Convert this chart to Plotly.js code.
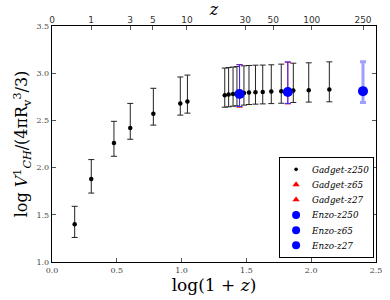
<!DOCTYPE html>
<html>
<head>
<meta charset="utf-8">
<script src="https://cdn.plot.ly/plotly-3.0.1.min.js"></script>
<style>html,body{margin:0;padding:0;background:#fff}#chart{width:390px;height:300px}</style>
</head>
<body>
<div id="chart"></div>
<script>
// Gadget-z250 (log(1+z), value, upper end, lower end of error bar)
const gadgetX   = [0.175, 0.303, 0.478, 0.604, 0.782, 0.990, 1.045, 1.333, 1.363, 1.397, 1.427, 1.481, 1.520, 1.570, 1.626, 1.692, 1.769, 1.862, 1.981, 2.140];
const gadgetY   = [1.40, 1.88, 2.26, 2.42, 2.57, 2.68, 2.70, 2.767, 2.774, 2.780, 2.785, 2.789, 2.795, 2.798, 2.800, 2.806, 2.810, 2.817, 2.820, 2.827];
const gadgetTop = [1.59, 2.085, 2.49, 2.68, 2.84, 2.96, 2.98, 3.054, 3.060, 3.065, 3.070, 3.078, 3.082, 3.085, 3.086, 3.089, 3.096, 3.106, 3.110, 3.120];
const gadgetBot = [1.26, 1.73, 2.12, 2.30, 2.45, 2.556, 2.577, 2.640, 2.644, 2.651, 2.654, 2.662, 2.668, 2.672, 2.675, 2.678, 2.682, 2.690, 2.694, 2.697];

// Gadget-z65 / Gadget-z27 (red triangles)
const g65X = [1.8195], g65Y = [2.80], g65Top = [3.115], g65Bot = [2.675];
const g27X = [1.4472], g27Y = [2.78], g27Top = [3.092], g27Bot = [2.640];

// Enzo runs (blue circles)
const e250X = [2.3997], e250Y = [2.81], e250Top = [3.12], e250Bot = [2.69];
const e65X  = [1.8195], e65Y  = [2.80], e65Top  = [3.12], e65Bot  = [2.68];
const e27X  = [1.4472], e27Y  = [2.78], e27Top  = [3.089], e27Bot = [2.647];

// top axis redshift ticks
const zTicks = [0, 1, 3, 5, 10, 30, 50, 100, 250];
const yTicks = [1.0, 1.5, 2.0, 2.5, 3.0, 3.5];
const xTicks = [0.0, 0.5, 1.0, 1.5, 2.0, 2.5];

const up = (t, y) => t.map((v, i) => v - y[i]);
const dn = (b, y) => b.map((v, i) => y[i] - v);

function tr(name, x, y, top, bot, color, ecolor, symbol, size, thick) {
  return {
    type: 'scatter', mode: 'markers', name: name, x: x, y: y,
    marker: {color: color, symbol: symbol, size: size},
    error_y: {type: 'data', symmetric: false, array: up(top, y), arrayminus: dn(bot, y),
              color: ecolor, thickness: thick, width: 3},
    xaxis: 'x', yaxis: 'y'
  };
}

const data = [
  tr('<i>Gadget-z250</i>', gadgetX, gadgetY, gadgetTop, gadgetBot, '#000', '#222', 'circle', 4.5, 1),
  tr('<i>Gadget-z65</i>', g65X, g65Y, g65Top, g65Bot, '#ff0000', '#ff0000', 'triangle-up', 8, 1),
  tr('<i>Gadget-z27</i>', g27X, g27Y, g27Top, g27Bot, '#ff0000', '#ff0000', 'triangle-up', 8, 1),
  tr('<i>Enzo-z250</i>', e250X, e250Y, e250Top, e250Bot, '#0000ff', 'rgba(80,80,255,0.55)', 'circle', 10, 3),
  tr('<i>Enzo-z65</i>', e65X, e65Y, e65Top, e65Bot, '#0000ff', '#3a2aff', 'circle', 10, 1),
  tr('<i>Enzo-z27</i>', e27X, e27Y, e27Top, e27Bot, '#0000ff', '#3a2aff', 'circle', 10, 1),
  {type: 'scatter', x: [0], y: [1], xaxis: 'x2', yaxis: 'y', showlegend: false,
   mode: 'markers', marker: {opacity: 0}, hoverinfo: 'skip'}
];

const serif = 'DejaVu Serif, Liberation Serif, serif';
const layout = {
  width: 390, height: 300,
  margin: {l: 52, r: 14, t: 26, b: 38},
  paper_bgcolor: '#fff', plot_bgcolor: '#fff',
  showlegend: true,
  xaxis: {
    range: [0, 2.5], tickvals: xTicks, ticktext: xTicks.map(v => v.toFixed(1)),
    ticks: 'inside', ticklen: 4, tickcolor: '#555', showgrid: false, zeroline: false,
    showline: true, linecolor: '#000', linewidth: 1.2, mirror: true,
    tickfont: {family: serif, size: 8, color: '#444'},
    title: {text: 'log(1 + <i>z</i>)', font: {family: serif, size: 17, color: '#000'}, standoff: 3}
  },
  xaxis2: {
    overlaying: 'x', side: 'top', range: [0, 2.5],
    tickvals: zTicks.map(z => Math.log10(1 + z)), ticktext: zTicks.map(String),
    ticks: 'inside', ticklen: 4, tickcolor: '#555', showgrid: false, zeroline: false,
    showline: false,
    tickfont: {family: 'DejaVu Sans, sans-serif', size: 9, color: '#333'},
    title: {text: '<i>z</i>', font: {family: serif, size: 16, color: '#000'}, standoff: 0}
  },
  yaxis: {
    range: [1, 3.5], tickvals: yTicks, ticktext: yTicks.map(v => v.toFixed(1)),
    ticks: 'inside', ticklen: 4, tickcolor: '#555', showgrid: false, zeroline: false,
    showline: true, linecolor: '#000', linewidth: 1.2, mirror: 'ticks',
    tickfont: {family: serif, size: 8, color: '#444'},
    title: {text: 'log <i>V</i><sup>1</sup><sub><i>CH</i></sub>/(4πR<sub>v</sub><sup>3</sup>/3)',
            font: {family: serif, size: 16, color: '#000'}, standoff: 4}
  },
  legend: {
    x: 0.995, xanchor: 'right', y: 0.015, yanchor: 'bottom',
    bgcolor: '#fff', bordercolor: '#000', borderwidth: 1.3,
    font: {family: serif, size: 11, color: '#000'},
    itemwidth: 30, tracegroupgap: 0
  }
};

Plotly.newPlot('chart', data, layout, {displayModeBar: false, staticPlot: true}).then(gd => {
  // compact the legend (keep bottom-right anchor)
  const lg = gd.querySelector('g.legend');
  if (!lg) return;
  const bb = lg.getBBox();
  const m = /translate\(\s*([-\d.]+)[ ,]+([-\d.]+)\s*\)/.exec(lg.getAttribute('transform') || '');
  if (!m) return;
  const s = 0.8;
  const tx = parseFloat(m[1]) + (bb.x + bb.width) * (1 - s);
  const ty = parseFloat(m[2]) + (bb.y + bb.height) * (1 - s);
  lg.setAttribute('transform', `translate(${tx},${ty}) scale(${s})`);
});
</script>
</body>
</html>
